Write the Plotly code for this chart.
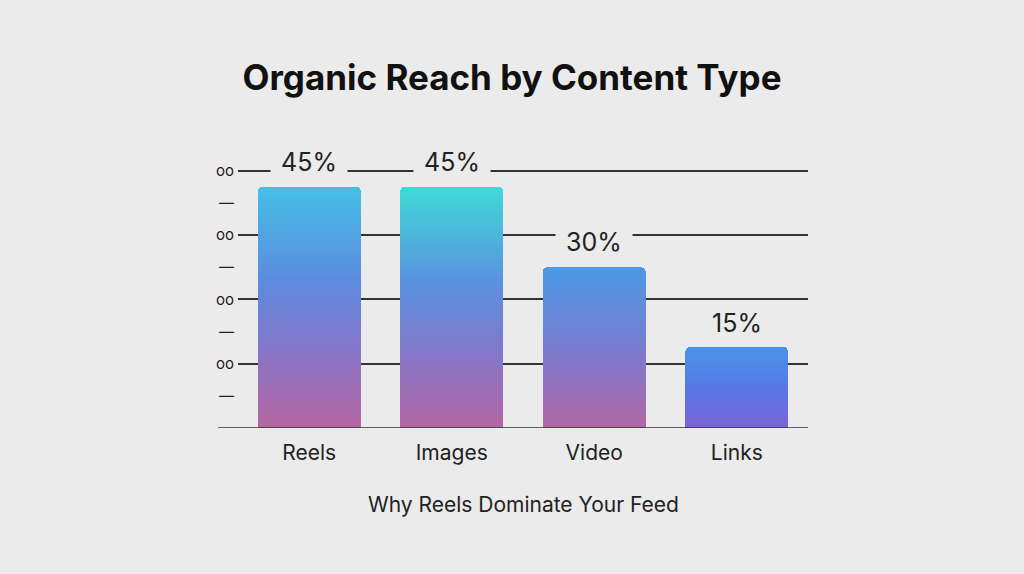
import plotly.graph_objects as go

categories = ["Reels", "Images", "Video", "Links"]
reach = [45, 45, 30, 15]
labels = ["45%", "45%", "30%", "15%"]

grid_vals = [12, 24, 36, 48]
grid_text = ["oo", "oo", "oo", "oo"]
dash_vals = [6, 18, 30, 42]
dash_text = ["—", "—", "—", "—"]

# colour stops for each bar, bottom -> top
bar_stops = [
    [(0.0, "#b566a0"), (0.3, "#8a74c6"), (0.6, "#5d8ade"), (1.0, "#45bfe6")],
    [(0.0, "#b466a2"), (0.3, "#8676c8"), (0.6, "#5a92e0"), (1.0, "#3fd9d6")],
    [(0.0, "#b266a4"), (0.45, "#7d78cc"), (1.0, "#4b9ae6")],
    [(0.0, "#7c62d4"), (0.5, "#5878e6"), (1.0, "#4a94e8")],
]

BG = "#ebebeb"
N = 60  # slices per bar to fake the vertical gradient


def hex_rgb(h):
    h = h.lstrip("#")
    return tuple(int(h[i:i + 2], 16) for i in (0, 2, 4))


def interp(stops, t):
    for (p0, c0), (p1, c1) in zip(stops[:-1], stops[1:]):
        if t <= p1:
            f = (t - p0) / (p1 - p0) if p1 > p0 else 0
            a, b = hex_rgb(c0), hex_rgb(c1)
            return "rgb(%d,%d,%d)" % tuple(round(a[i] + (b[i] - a[i]) * f) for i in range(3))
    return stops[-1][1]


fig = go.Figure()
for k in range(N):
    t = (k + 0.5) / N
    fig.add_bar(
        x=categories,
        y=[v / N for v in reach],
        marker=dict(color=[interp(s, t) for s in bar_stops], line=dict(width=0)),
        hoverinfo="skip",
        showlegend=False,
    )

# dash marks between the gridlines live on an overlay axis
fig.add_scatter(x=categories, y=[None] * len(categories), yaxis="y2",
                hoverinfo="skip", showlegend=False)

# value labels get a background box so they break the gridline behind them
for c, v, lab in zip(categories, reach, labels):
    fig.add_annotation(x=c, y=v, text="&nbsp;" + lab + "&nbsp;", showarrow=False, yshift=25,
                       font=dict(family="Inter", size=25, color="#222"),
                       bgcolor=BG, borderpad=3)

fig.add_annotation(x=0.5, y=-0.287, xref="paper", yref="paper", yanchor="middle",
                   text="Why Reels Dominate Your Feed", showarrow=False,
                   font=dict(family="Inter", size=21, color="#222"))

fig.add_shape(type="line", xref="paper", yref="y", x0=-0.035, x1=1, y0=0, y1=0,
              line=dict(color="#333", width=1.6), layer="above")

fig.update_layout(
    width=1024, height=574,
    paper_bgcolor=BG, plot_bgcolor=BG,
    barmode="stack", bargap=0.275, barcornerradius=5,
    margin=dict(l=238, r=216, t=160, b=146),
    title=dict(text="<b>Organic Reach by Content Type</b>", x=0.5, xanchor="center",
               y=1 - 78 / 574, yanchor="middle",
               font=dict(family="Inter", size=35, color="#111")),
    xaxis=dict(range=[-0.5, 3.5], showgrid=False, zeroline=False, showline=False,
               ticks="", ticklabelstandoff=10,
               tickfont=dict(family="Inter", size=21, color="#222")),
    yaxis=dict(range=[0, 50], tickvals=grid_vals, ticktext=grid_text, showgrid=True,
               gridcolor="#333", gridwidth=1.5, zeroline=False, showline=False,
               ticks="", ticklabelstandoff=3,
               tickfont=dict(family="Inter", size=15, color="#222")),
    yaxis2=dict(range=[0, 50], overlaying="y", side="left", tickvals=dash_vals,
                ticktext=dash_text, showgrid=False, zeroline=False, showline=False,
                ticks="", ticklabelstandoff=3,
                tickfont=dict(family="Inter", size=15, color="#222")),
)

fig.write_html("out.html", config={"displayModeBar": False},
               post_script="document.body.style.margin='0';document.body.style.background='%s';" % BG)
